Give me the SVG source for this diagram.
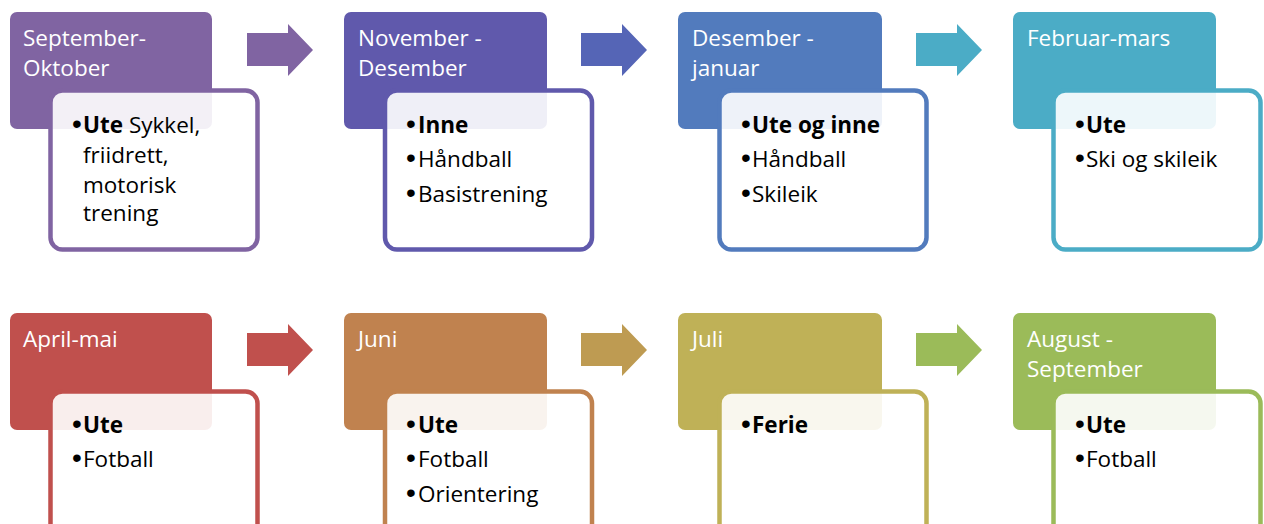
<svg xmlns="http://www.w3.org/2000/svg" width="1264" height="524" viewBox="0 0 1264 524">
<style>
.ttl{font-family:"Open Sans","Liberation Sans",sans-serif;font-size:22.5px;fill:#ffffff;}
.bd{font-family:"Open Sans","Liberation Sans",sans-serif;font-size:22.5px;fill:#000000;}
.bu{font-family:"Liberation Sans","DejaVu Sans",sans-serif;font-size:28px;fill:#000000;}
.b{font-weight:bold;}
.card{fill:#ffffff;fill-opacity:0.9;stroke-width:4.5;}
</style>
<rect width="1264" height="524" fill="#ffffff"/>
<g id="connectors">
<polygon points="247,33 288,33 288,24 313,50 288,76 288,66 247,66" fill="#8064A2"/>
<polygon points="581,33 622,33 622,24 647,50 622,76 622,66 581,66" fill="#5565B6"/>
<polygon points="916,33 957,33 957,24 982,50 957,76 957,66 916,66" fill="#4BACC6"/>
<polygon points="247,333 288,333 288,324 313,350 288,376 288,366 247,366" fill="#C0504D"/>
<polygon points="581,333 622,333 622,324 647,350 622,376 622,366 581,366" fill="#BE9B52"/>
<polygon points="916,333 957,333 957,324 982,350 957,376 957,366 916,366" fill="#9BBB59"/>
</g>
<g id="n1">
<rect x="10" y="12" width="202" height="117" rx="7" fill="#8064A2"/>
<text class="ttl" x="23" y="46">September-</text>
<text class="ttl" x="23" y="76">Oktober</text>
<rect class="card" x="50.5" y="90.5" width="207" height="159" rx="12" stroke="#8064A2"/>
<text class="bu" x="72" y="133">•</text>
<text class="bd" x="83" y="133"><tspan class="b">Ute</tspan> Sykkel,</text>
<text class="bd" x="83" y="163">friidrett,</text>
<text class="bd" x="83" y="193">motorisk</text>
<text class="bd" x="83" y="221">trening</text>
</g>
<g id="n2">
<rect x="344" y="12" width="203" height="117" rx="7" fill="#6059AC"/>
<text class="ttl" x="358" y="46">November -</text>
<text class="ttl" x="358" y="76">Desember</text>
<rect class="card" x="385" y="90.5" width="207" height="159" rx="12" stroke="#6059AC"/>
<text class="bu" x="406" y="133">•</text>
<text class="bd b" x="418" y="133">Inne</text>
<text class="bu" x="406" y="167">•</text>
<text class="bd" x="418" y="167">Håndball</text>
<text class="bu" x="406" y="202">•</text>
<text class="bd" x="418" y="202">Basistrening</text>
</g>
<g id="n3">
<rect x="678" y="12" width="204" height="117" rx="7" fill="#527BBD"/>
<text class="ttl" x="692" y="46">Desember -</text>
<text class="ttl" x="692" y="76">januar</text>
<rect class="card" x="719.5" y="90.5" width="207" height="159" rx="12" stroke="#527BBD"/>
<text class="bu" x="741" y="133">•</text>
<text class="bd b" x="752" y="133">Ute og inne</text>
<text class="bu" x="741" y="167">•</text>
<text class="bd" x="752" y="167">Håndball</text>
<text class="bu" x="741" y="202">•</text>
<text class="bd" x="752" y="202">Skileik</text>
</g>
<g id="n4">
<rect x="1013" y="12" width="203" height="117" rx="7" fill="#4BACC6"/>
<text class="ttl" x="1027" y="46">Februar-mars</text>
<rect class="card" x="1053.5" y="90.5" width="207" height="159" rx="12" stroke="#4BACC6"/>
<text class="bu" x="1075" y="133">•</text>
<text class="bd b" x="1086" y="133">Ute</text>
<text class="bu" x="1075" y="167">•</text>
<text class="bd" x="1086" y="167">Ski og skileik</text>
</g>
<g id="n5">
<rect x="10" y="313" width="202" height="117" rx="7" fill="#C0504D"/>
<text class="ttl" x="23" y="347">April-mai</text>
<rect class="card" x="50.5" y="391.5" width="207" height="159" rx="12" stroke="#C0504D"/>
<text class="bu" x="72" y="433">•</text>
<text class="bd b" x="83" y="433">Ute</text>
<text class="bu" x="72" y="467">•</text>
<text class="bd" x="83" y="467">Fotball</text>
</g>
<g id="n6">
<rect x="344" y="313" width="203" height="117" rx="7" fill="#C0824F"/>
<text class="ttl" x="358" y="347">Juni</text>
<rect class="card" x="385" y="391.5" width="207" height="159" rx="12" stroke="#C0824F"/>
<text class="bu" x="406" y="433">•</text>
<text class="bd b" x="418" y="433">Ute</text>
<text class="bu" x="406" y="467">•</text>
<text class="bd" x="418" y="467">Fotball</text>
<text class="bu" x="406" y="502">•</text>
<text class="bd" x="418" y="502">Orientering</text>
</g>
<g id="n7">
<rect x="678" y="313" width="204" height="117" rx="7" fill="#BFB157"/>
<text class="ttl" x="692" y="347">Juli</text>
<rect class="card" x="719.5" y="391.5" width="207" height="159" rx="12" stroke="#BFB157"/>
<text class="bu" x="741" y="433">•</text>
<text class="bd b" x="752" y="433">Ferie</text>
</g>
<g id="n8">
<rect x="1013" y="313" width="203" height="117" rx="7" fill="#9BBB59"/>
<text class="ttl" x="1027" y="347">August -</text>
<text class="ttl" x="1027" y="377">September</text>
<rect class="card" x="1053.5" y="391.5" width="207" height="159" rx="12" stroke="#9BBB59"/>
<text class="bu" x="1075" y="433">•</text>
<text class="bd b" x="1086" y="433">Ute</text>
<text class="bu" x="1075" y="467">•</text>
<text class="bd" x="1086" y="467">Fotball</text>
</g>
</svg>
